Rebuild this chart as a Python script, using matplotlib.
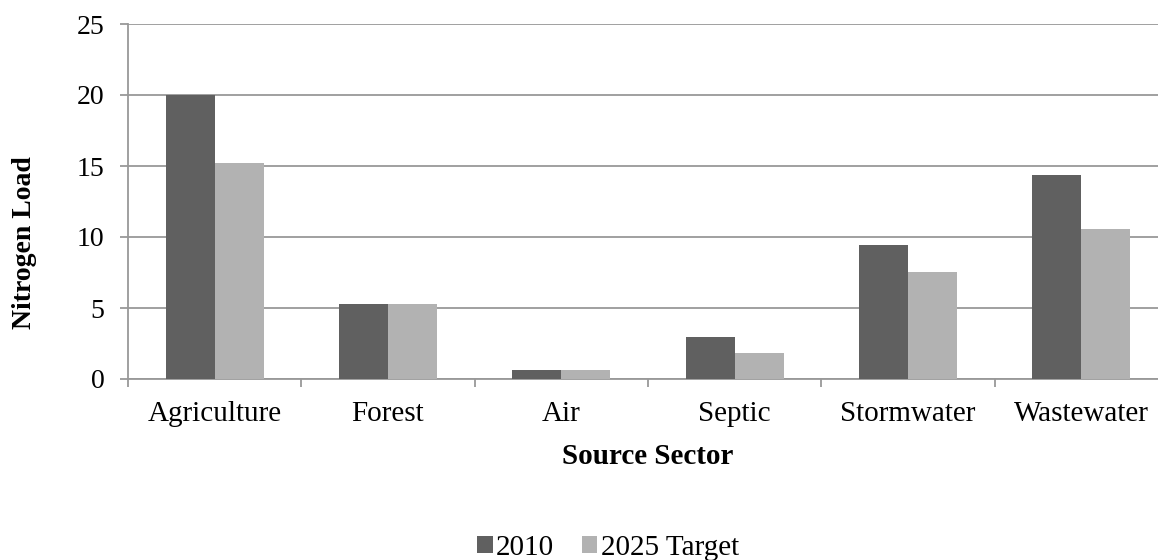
import numpy as np
import matplotlib.pyplot as plt

plt.rcParams['font.family'] = ['Liberation Serif', 'DejaVu Serif']

sectors = ['Agriculture', 'Forest', 'Air', 'Septic', 'Stormwater', 'Wastewater']
load_2010 = [20.0, 5.28, 0.65, 2.98, 9.45, 14.37]
load_2025 = [15.2, 5.28, 0.65, 1.83, 7.53, 10.57]
series_names = ['2010', '2025 Target']
yticks = [0, 5, 10, 15, 20, 25]

W, H = 1158, 560
fig = plt.figure(figsize=(W / 100, H / 100), dpi=100)
# plot area runs a little past the right edge, as in the original
ax = fig.add_axes([128 / W, 1 - 379 / H, 1040 / W, 355 / H])

x = np.arange(len(sectors))
bw = 0.283
ax.bar(x - bw / 2, load_2010, bw, color='#606060', label=series_names[0], zorder=3)
ax.bar(x + bw / 2, load_2025, bw, color='#b2b2b2', label=series_names[1], zorder=3)

ax.set_xlim(-0.5, len(sectors) - 0.5)
ax.set_ylim(0, 25)
ax.set_yticks(yticks)
ax.yaxis.grid(True, color='#999999', linewidth=1.3, zorder=0)

ax.set_xticks(np.arange(len(sectors) + 1) - 0.5)
ax.set_xticklabels([])
ax.set_xticks(x, minor=True)
ax.set_xticklabels(sectors, minor=True)
ax.tick_params(axis='x', which='minor', length=0, pad=16, labelsize=21)
ax.tick_params(axis='x', which='major', length=5.5, color='#999999', width=1.3)
ax.tick_params(axis='y', length=5.8, color='#999999', width=1.3, labelsize=20, pad=11)

for s in ['top', 'right']:
    ax.spines[s].set_visible(False)
for s in ['left', 'bottom']:
    ax.spines[s].set_color('#999999')
    ax.spines[s].set_linewidth(1.3)

fig.text(25 / W, 1 - 243 / H, 'Nitrogen Load', fontsize=20, fontweight='bold',
         rotation=90, ha='center', va='center')
fig.text(648 / W, 1 - 457 / H, 'Source Sector', fontsize=21, fontweight='bold',
         ha='center', va='center')

fig.legend(loc='center', bbox_to_anchor=(608 / W, 1 - 548 / H), ncol=2, frameon=False,
           fontsize=21, handlelength=0.52, handleheight=0.52, handletextpad=0.12,
           columnspacing=0.95, borderaxespad=0, borderpad=0)

fig.savefig('out.png', dpi=100)
